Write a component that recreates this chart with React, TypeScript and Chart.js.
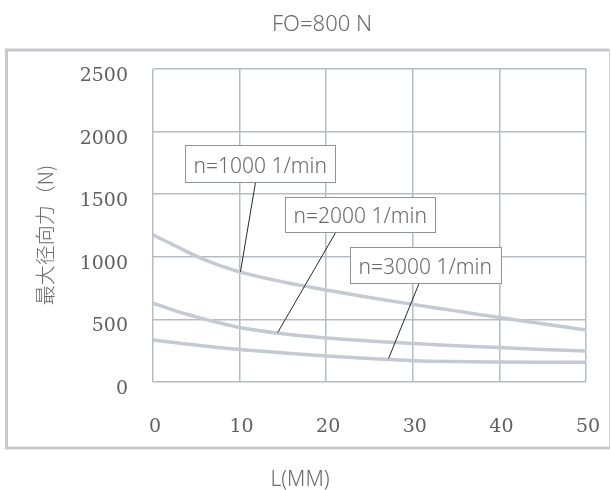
import { useEffect, useRef } from 'react';
import { Chart, registerables } from 'chart.js';

Chart.register(...registerables);

const chartTitle = 'FO=800 N';
const xAxisTitle = 'L(MM)';
const yAxisTitle = '最大径向力（N)';

const lengthsMM = [0, 2.5, 5, 7.5, 10, 15, 20, 25, 30, 35, 40, 45, 50];
const force1000 = [1175, 1090, 1005, 935, 880, 800, 735, 675, 620, 568, 515, 465, 415];
const force2000 = [630, 570, 520, 475, 435, 385, 352, 328, 308, 290, 275, 260, 248];
const force3000 = [335, 315, 295, 276, 260, 233, 208, 188, 170, 163, 160, 158, 157];

const speedLabels = ['n=1000 1/min', 'n=2000 1/min', 'n=3000 1/min'];

const xTicks = [0, 10, 20, 30, 40, 50];
const yTicks = [0, 500, 1000, 1500, 2000, 2500];

// callout geometry in data units: box [x0, yTop, x1, yBottom], leader from -> to
const callouts = [
  { box: [3.7, 1894, 21.0, 1600], from: [11.85, 1600], to: [10.1, 880] },
  { box: [15.3, 1480, 32.6, 1195], from: [21.1, 1195], to: [14.4, 395] },
  { box: [22.8, 1080, 40.15, 792], from: [30.75, 792], to: [27.2, 187] },
];

const series = [force1000, force2000, force3000];

const decorPlugin = {
  id: 'decor',
  beforeDraw(chart: any) {
    const ctx = chart.ctx;
    ctx.save();
    ctx.fillStyle = '#ffffff';
    ctx.fillRect(0, 0, chart.width, chart.height);
    ctx.strokeStyle = '#c8c9cd';
    ctx.lineWidth = 3;
    ctx.beginPath();
    ctx.moveTo(609, 50);
    ctx.lineTo(6.5, 50);
    ctx.lineTo(6.5, 448);
    ctx.lineTo(609, 448);
    ctx.stroke();
    ctx.strokeStyle = '#d2d3d6';
    ctx.lineWidth = 1;
    ctx.beginPath();
    ctx.moveTo(609.5, 49);
    ctx.lineTo(609.5, 449);
    ctx.stroke();
    ctx.restore();
  },
  afterDatasetsDraw(chart: any) {
    const ctx = chart.ctx;
    const xs = chart.scales.x;
    const ys = chart.scales.y;
    ctx.save();
    callouts.forEach((c, i) => {
      const fx = xs.getPixelForValue(c.from[0]);
      const fy = ys.getPixelForValue(c.from[1]);
      const tx = xs.getPixelForValue(c.to[0]);
      const ty = ys.getPixelForValue(c.to[1]);
      ctx.strokeStyle = '#2a2a2a';
      ctx.lineWidth = 1;
      ctx.beginPath();
      ctx.moveTo(fx, fy);
      ctx.lineTo(tx, ty);
      ctx.stroke();
      const x0 = Math.round(xs.getPixelForValue(c.box[0])) + 0.5;
      const y0 = Math.round(ys.getPixelForValue(c.box[1])) + 0.5;
      const x1 = Math.round(xs.getPixelForValue(c.box[2])) + 0.5;
      const y1 = Math.round(ys.getPixelForValue(c.box[3])) + 0.5;
      ctx.fillStyle = '#ffffff';
      ctx.fillRect(x0, y0, x1 - x0, y1 - y0);
      ctx.strokeStyle = '#8f949a';
      ctx.lineWidth = 1;
      ctx.strokeRect(x0, y0, x1 - x0, y1 - y0);
      ctx.fillStyle = '#6a6a6a';
      ctx.font = '300 21px "Noto Sans"';
      ctx.textAlign = 'left';
      ctx.textBaseline = 'alphabetic';
      ctx.fillText(speedLabels[i], x0 + 8, y1 - 10);
    });
    ctx.restore();
  },
  afterDraw(chart: any) {
    const ctx = chart.ctx;
    ctx.save();
    ctx.fillStyle = '#6a6a6a';
    ctx.textAlign = 'center';
    ctx.textBaseline = 'alphabetic';
    ctx.font = '300 22px "Noto Sans"';
    ctx.fillText(chartTitle, 322, 31);
    ctx.font = '300 21px "Noto Sans"';
    ctx.fillText(xAxisTitle, 300, 486);
    ctx.translate(45, 235);
    ctx.rotate(-Math.PI / 2);
    ctx.textBaseline = 'middle';
    ctx.font = '300 20px "Noto Sans CJK SC"';
    ctx.fillText(yAxisTitle, 0, 0);
    ctx.restore();
  },
};

export default function App() {
  const canvasRef = useRef<HTMLCanvasElement | null>(null);

  useEffect(() => {
    if (!canvasRef.current) return;
    const gridColor = '#b6bcc4';
    const tickFont = { family: '"DejaVu Serif"', size: 19 };
    const chart = new Chart(canvasRef.current, {
      type: 'line',
      data: {
        datasets: series.map((vals, i) => ({
          label: speedLabels[i],
          data: lengthsMM.map((x, j) => ({ x, y: vals[j] })),
          borderColor: '#c3cad3',
          borderWidth: 3.5,
          pointRadius: 0,
          fill: false,
          cubicInterpolationMode: 'monotone' as const,
        })),
      },
      options: {
        animation: false,
        responsive: false,
        layout: { padding: { top: 69, right: 25, left: 0, bottom: 0 } },
        plugins: {
          legend: { display: false },
          title: { display: false },
          tooltip: { enabled: false },
        },
        scales: {
          x: {
            type: 'linear',
            min: 0,
            max: 50,
            afterBuildTicks: (s: any) => {
              s.ticks = xTicks.map((v) => ({ value: v }));
            },
            afterFit: (s: any) => {
              s.height = 108;
              s.paddingLeft = 0;
              s.paddingRight = 0;
            },
            grid: { color: gridColor, lineWidth: 1.5, drawTicks: false },
            border: { display: false },
            ticks: {
              padding: 34,
              labelOffset: 2,
              color: '#606060',
              font: tickFont,
              maxRotation: 0,
              autoSkip: false,
              callback: (v: any) => String(v),
            },
          },
          y: {
            type: 'linear',
            min: 0,
            max: 2500,
            afterBuildTicks: (s: any) => {
              s.ticks = yTicks.map((v) => ({ value: v }));
            },
            afterFit: (s: any) => {
              s.width = 153;
              s.paddingTop = 0;
              s.paddingBottom = 0;
            },
            grid: { color: gridColor, lineWidth: 1.5, drawTicks: false },
            border: { display: false },
            ticks: {
              padding: 25,
              labelOffset: 7,
              color: '#606060',
              font: tickFont,
              autoSkip: false,
              callback: (v: any) => String(v),
            },
          },
        },
      },
      plugins: [decorPlugin],
    });
    return () => chart.destroy();
  }, []);

  return (
    <div style={{ position: 'absolute', left: 0, top: 0, width: 611, height: 490 }}>
      <canvas ref={canvasRef} width={611} height={490} style={{ display: 'block' }} />
    </div>
  );
}
